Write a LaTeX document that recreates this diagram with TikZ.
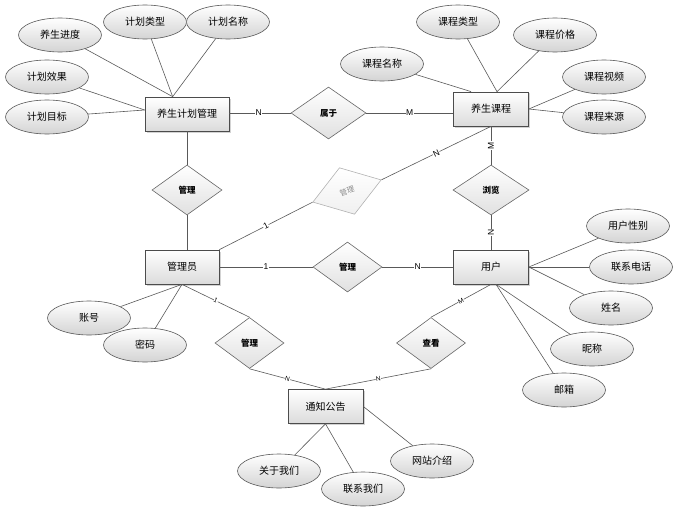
\documentclass[tikz,border=0pt]{standalone}
\usepackage{fontspec}
\setmainfont{Noto Sans CJK SC}
\newfontfamily\latinfont{Liberation Sans}
\usetikzlibrary{shapes.geometric,shadows,calc}
\begin{document}
\begin{tikzpicture}[x=1pt,y=-1pt,
  ent/.style={rectangle, draw=black!70, line width=0.7pt, top color=white, bottom color=black!14,
    minimum width=75pt, minimum height=34pt, inner sep=0pt, font=\fontsize{10}{12}\selectfont,
    drop shadow={shadow xshift=1.5pt, shadow yshift=-1.5pt, opacity=0.35}},
  attr/.style={ellipse, draw=black!65, line width=0.6pt, top color=white, bottom color=black!17,
    minimum width=83pt, minimum height=34pt, inner sep=0pt, font=\fontsize{10}{12}\selectfont},
  rel/.style={diamond, draw=black!60, line width=0.6pt, top color=white, bottom color=black!12,
    minimum width=70pt, minimum height=50pt, inner sep=0pt, font=\fontsize{8.5}{10}\selectfont\bfseries},
  lbl/.style={fill=white, inner sep=0.5pt, font=\latinfont\fontsize{8.5}{9}\selectfont},
  slbl/.style={fill=white, inner sep=0.3pt, font=\latinfont\fontsize{6.5}{7}\selectfont},
  ln/.style={draw=black!65, line width=0.6pt}
]
\useasboundingbox (0,0) rectangle (675,511);

% entities
\node[ent, minimum width=84pt] (plan) at (187,114) {养生计划管理};
\node[ent] (course) at (491,109) {养生课程};
\node[ent, minimum width=74pt] (admin) at (182,267) {管理员};
\node[ent] (user) at (491,267) {用户};
\node[ent] (notice) at (325.5,406.5) {通知公告};

% attributes
\node[attr] (a1) at (60,35) {养生进度};
\node[attr] (a2) at (145,22) {计划类型};
\node[attr] (a3) at (228,22) {计划名称};
\node[attr] (a4) at (47,77) {计划效果};
\node[attr] (a5) at (47,117) {计划目标};
\node[attr] (b1) at (458,22) {课程类型};
\node[attr] (b2) at (555,35) {课程价格};
\node[attr] (b3) at (382,64) {课程名称};
\node[attr] (b4) at (604,77) {课程视频};
\node[attr] (b5) at (604,117) {课程来源};
\node[attr] (u1) at (628,226) {用户性别};
\node[attr] (u2) at (631,267) {联系电话};
\node[attr] (u3) at (611,308) {姓名};
\node[attr] (u4) at (592,349) {昵称};
\node[attr] (u5) at (564,390) {邮箱};
\node[attr] (m1) at (89,318) {账号};
\node[attr] (m2) at (145,345) {密码};
\node[attr] (n1) at (279,471) {关于我们};
\node[attr] (n2) at (363,489) {联系我们};
\node[attr] (n3) at (432,461) {网站介绍};

% relations
\node[rel, minimum width=75pt, minimum height=52pt] (r1) at (328.5,113) {属于};
\node[rel] (r2) at (187,190) {管理};
\node[rel, draw=black!30, top color=white, bottom color=black!6, text=black!45,
      font=\fontsize{7.5}{9}\selectfont, rotate=18, minimum width=72pt, minimum height=49pt] (r3) at (347,191) {管理};
\node[rel, minimum width=76pt] (r4) at (491,190) {浏览};
\node[rel, minimum width=69pt] (r5) at (347.5,267) {管理};
\node[rel, minimum width=69pt, minimum height=51pt] (r6) at (431,343) {查看};
\node[rel, minimum width=69pt, minimum height=51pt] (r7) at (249.5,343) {管理};

% attribute connectors
\coordinate (pA) at ($(plan.north west)+(28,0)$);
\coordinate (pB) at ($(plan.west)+(0,-4)$);
\draw[ln] (a1) -- (pA);
\draw[ln] (a2) -- (pA);
\draw[ln] (a3) -- (pA);
\draw[ln] (a4) -- (pB);
\draw[ln] (a5) -- (pB);

\coordinate (cA) at ($(course.north west)+(18,0)$);
\coordinate (cB) at ($(course.north)+(6,0)$);
\draw[ln] (b3) -- (cA);
\draw[ln] (b1) -- (cB);
\draw[ln] (b2) -- (cB);
\draw[ln] (b4) -- (course.east);
\draw[ln] (b5) -- (course.east);

\coordinate (uS) at ($(user.south)+(5,0)$);
\draw[ln] (u1) -- (user.east);
\draw[ln] (u2) -- (user.east);
\draw[ln] (u3) -- (user.east);
\draw[ln] (u4) -- (uS);
\draw[ln] (u5) -- (uS);

\draw[ln] (m1) -- (admin.south);
\draw[ln] (m2) -- (admin.south);

\draw[ln] (n1) -- (notice.south);
\draw[ln] (n2) -- (notice.south);
\draw[ln] (n3) -- (notice.east);

% relationship connectors
\draw[ln] (plan.east |- r1.west) -- node[lbl, pos=0.48] {N} (r1.west);
\draw[ln] (r1.east) -- node[lbl] {M} (r1.east -| course.west);
\draw[ln] (plan.south -| r2.north) -- (r2.north);
\draw[ln] (r2.south) -- (r2.south |- admin.north);
\draw[ln] (admin.north east) -- node[lbl, sloped] {1} (r3.west);
\draw[ln] (r3.east) -- node[lbl, sloped] {N} (course.south);
\draw[ln] (course.south) -- node[lbl, rotate=90] {M} (r4.north);
\draw[ln] (r4.south) -- node[lbl, rotate=90] {N} (user.north);
\draw[ln] (admin.east) -- node[lbl] {1} (r5.west);
\draw[ln] (r5.east) -- node[lbl] {N} (user.west);
\draw[ln] (user.south) -- node[slbl, sloped] {M} (r6.north);
\draw[ln] (r6.south) -- node[slbl, sloped] {N} (notice.north);
\draw[ln] (admin.south) -- node[slbl, sloped] {1} (r7.north);
\draw[ln] (r7.south) -- node[slbl, sloped] {N} (notice.north);
\end{tikzpicture}
\end{document}
